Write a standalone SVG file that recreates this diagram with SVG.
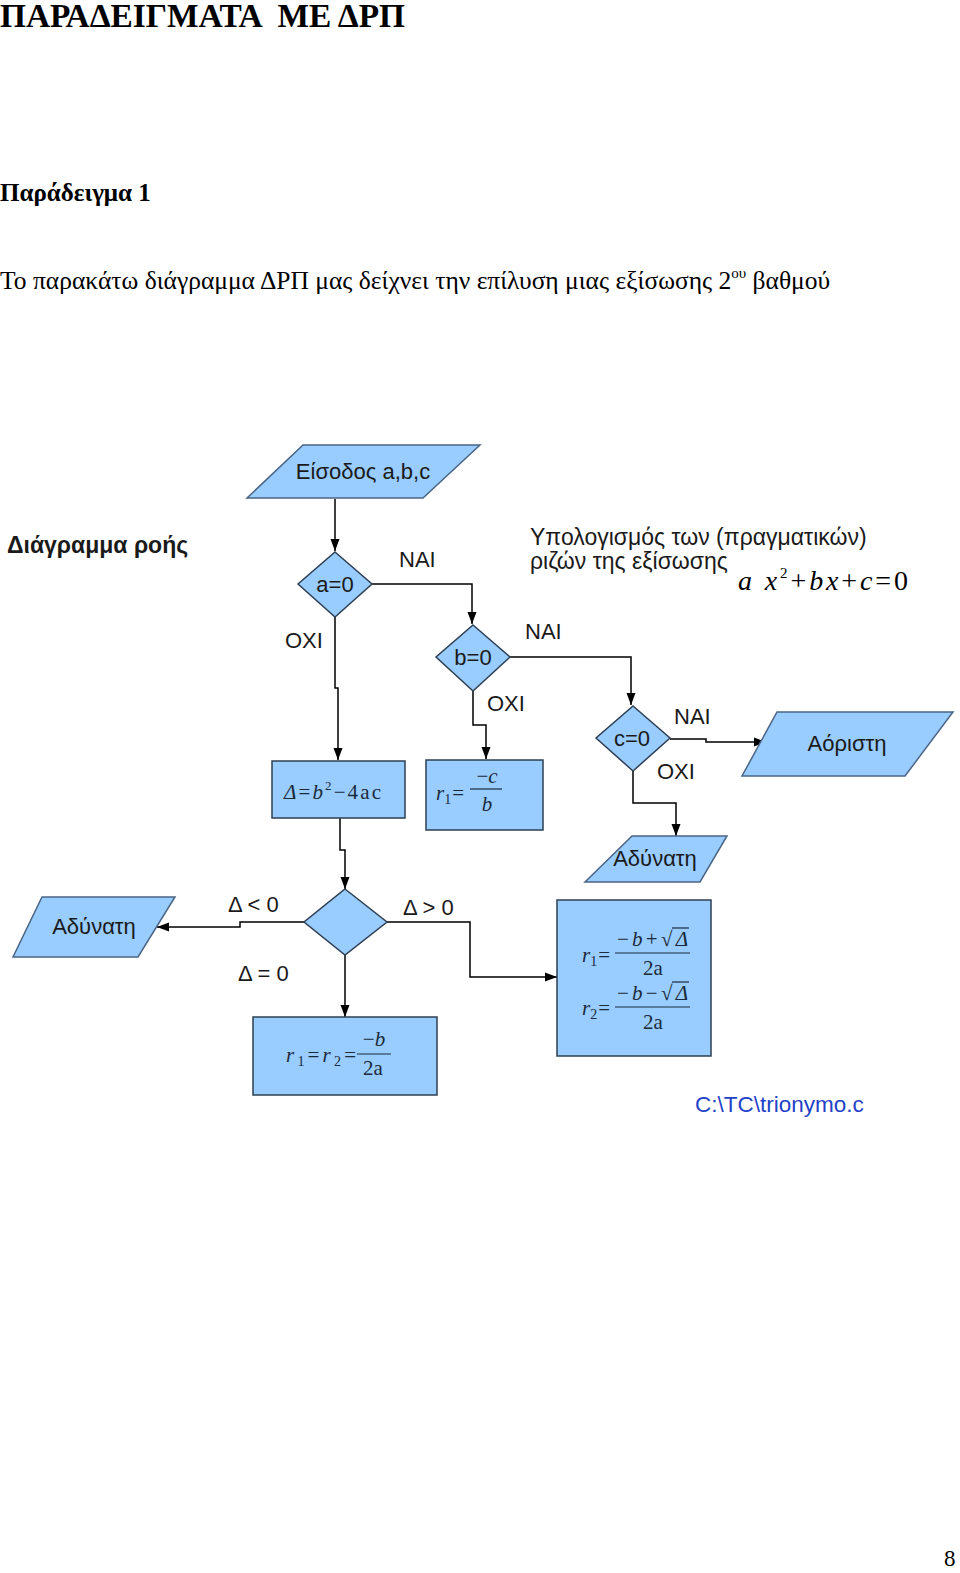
<svg xmlns="http://www.w3.org/2000/svg" width="960" height="1573" viewBox="0 0 960 1573">
<style>
.serif{font-family:"Liberation Serif","Times New Roman",serif;fill:#000}
.sans{font-family:"Liberation Sans",Arial,sans-serif;fill:#1a1a1a}
.shape{fill:#99ccff;stroke:#2e3f52;stroke-width:1.5}
.para{fill:#99ccff;stroke:#4a6585;stroke-width:1.5}
.lbl{font-family:"Liberation Sans",Arial,sans-serif;font-size:22px;fill:#1a1a1a}
.math{font-family:"Liberation Serif","Times New Roman",serif;font-size:21px;fill:#1a2a3a}
.it{font-style:italic}
.conn{fill:none;stroke:#000;stroke-width:1.5}
.frac{stroke:#1a2a3a;stroke-width:1.2}
</style>
<defs>
<marker id="arr" markerUnits="userSpaceOnUse" markerWidth="12" markerHeight="12" viewBox="0 0 12 12" refX="12" refY="6" orient="auto">
<path d="M0,1.5 L12,6 L0,10.5 Z" fill="#000"/>
</marker>
</defs>
<rect width="960" height="1573" fill="#fff"/>

<text class="serif" x="0" y="27" font-size="33" font-weight="bold" style="white-space:pre" textLength="405" lengthAdjust="spacingAndGlyphs">ΠΑΡΑΔΕΙΓΜΑΤΑ  ΜΕ ΔΡΠ</text>
<text class="serif" x="0" y="201" font-size="25" font-weight="bold">Παράδειγμα 1</text>
<text class="serif" x="0" y="289" font-size="25.5">Το παρακάτω διάγραμμα ΔΡΠ μας δείχνει την επίλυση μιας εξίσωσης 2<tspan font-size="15" dy="-11">ου</tspan><tspan dy="11"> βαθμού</tspan></text>

<text class="sans" x="7" y="553" font-size="23" font-weight="bold">Διάγραμμα ροής</text>
<text class="sans" x="530" y="545" font-size="23">Υπολογισμός των (πραγματικών)</text>
<text class="sans" x="530" y="569" font-size="23">ριζών της εξίσωσης</text>
<text class="serif it" x="738" y="590" font-size="28" fill="#1a2a3a" textLength="170" lengthAdjust="spacing">a x<tspan font-size="15" dy="-12" font-style="normal">2</tspan><tspan dy="12" font-style="normal">+</tspan>bx<tspan font-style="normal">+</tspan>c<tspan font-style="normal">=0</tspan></text>

<g id="connectors">
<polyline class="conn" points="335,499 335,551" marker-end="url(#arr)"/>
<polyline class="conn" points="372,584 472,584 472,624" marker-end="url(#arr)"/>
<polyline class="conn" points="335,617 335,688 338,688 338,760" marker-end="url(#arr)"/>
<polyline class="conn" points="510,657 631,657 631,705" marker-end="url(#arr)"/>
<polyline class="conn" points="473,691 473,725 486,725 486,759" marker-end="url(#arr)"/>
<polyline class="conn" points="670,739 706,739 706,742 766,742" marker-end="url(#arr)"/>
<polyline class="conn" points="633,771 633,803 676,803 676,836" marker-end="url(#arr)"/>
<polyline class="conn" points="340,818 340,850 345,850 345,889" marker-end="url(#arr)"/>
<polyline class="conn" points="304,922 240,922 240,927 157,927" marker-end="url(#arr)"/>
<polyline class="conn" points="387,922 470,922 470,977 557,977" marker-end="url(#arr)"/>
<polyline class="conn" points="345,955 345,1017" marker-end="url(#arr)"/>
<text class="lbl" x="399" y="567">NAI</text>
<text class="lbl" x="285" y="648">OXI</text>
<text class="lbl" x="525" y="639">NAI</text>
<text class="lbl" x="487" y="711">OXI</text>
<text class="lbl" x="674" y="724">NAI</text>
<text class="lbl" x="657" y="779">OXI</text>
<text class="lbl" x="228" y="912">Δ &lt; 0</text>
<text class="lbl" x="403" y="915">Δ &gt; 0</text>
<text class="lbl" x="238" y="981">Δ = 0</text>
</g>

<g id="input">
<polygon class="para" points="303,445 480,445 423,498 247,498"/>
<text class="lbl" x="363" y="479" text-anchor="middle">Είσοδος a,b,c</text>
</g>

<g id="dec-a">
<polygon class="shape" points="335,552 372,584 335,617 298,584"/>
<text class="lbl" x="335" y="592" text-anchor="middle">a=0</text>
</g>

<g id="dec-b">
<polygon class="shape" points="473,625 510,657 473,691 436,657"/>
<text class="lbl" x="473" y="665" text-anchor="middle">b=0</text>
</g>

<g id="dec-c">
<polygon class="shape" points="633,706 670,738 633,771 596,738"/>
<text class="lbl" x="632" y="746" text-anchor="middle">c=0</text>
</g>

<g id="out-aoristi">
<polygon class="para" points="777,712 953,712 905,776 742,776"/>
<text class="lbl" x="847" y="751" text-anchor="middle" font-size="23">Αόριστη</text>
</g>

<g id="out-adynati-right">
<polygon class="para" points="632,836 727,836 700,882 585,882"/>
<text class="lbl" x="655" y="866" text-anchor="middle" font-size="23">Αδύνατη</text>
</g>

<g id="box-r1">
<rect class="shape" x="426" y="760" width="117" height="70"/>
<text class="math" x="436" y="800"><tspan class="it">r</tspan><tspan font-size="14" dy="4">1</tspan><tspan dy="-4" dx="1">=</tspan></text>
<text class="math it" x="487" y="783" text-anchor="middle"><tspan font-style="normal">−</tspan>c</text>
<line class="frac" x1="470" y1="789" x2="502" y2="789"/>
<text class="math it" x="487" y="811" text-anchor="middle">b</text>
</g>

<g id="box-delta">
<rect class="shape" x="272" y="761" width="133" height="57"/>
<text class="math" x="284" y="799" textLength="97" lengthAdjust="spacing"><tspan class="it">Δ</tspan>=<tspan class="it">b</tspan><tspan font-size="13" dy="-9">2</tspan><tspan dy="9">−4ac</tspan></text>
</g>

<g id="dec-delta">
<polygon class="shape" points="345,889 387,922 345,955 304,922"/>
</g>

<g id="out-adynati-left">
<polygon class="para" points="42,897 175,897 138,957 13,957"/>
<text class="lbl" x="94" y="934" text-anchor="middle" font-size="23">Αδύνατη</text>
</g>

<g id="box-roots">
<rect class="shape" x="557" y="900" width="154" height="156"/>
<text class="math" x="582" y="962"><tspan class="it">r</tspan><tspan font-size="14" dy="4">1</tspan><tspan dy="-4" dx="1">=</tspan></text>
<text class="math" x="617" y="946" textLength="71" lengthAdjust="spacing">−<tspan class="it">b</tspan>+√<tspan class="it">Δ</tspan></text>
<line class="frac" x1="672" y1="928" x2="689" y2="928"/>
<line class="frac" x1="615" y1="953" x2="690" y2="953"/>
<text class="math" x="653" y="975" text-anchor="middle">2a</text>
<text class="math" x="582" y="1015"><tspan class="it">r</tspan><tspan font-size="14" dy="4">2</tspan><tspan dy="-4" dx="1">=</tspan></text>
<text class="math" x="617" y="1000" textLength="71" lengthAdjust="spacing">−<tspan class="it">b</tspan>−√<tspan class="it">Δ</tspan></text>
<line class="frac" x1="672" y1="982" x2="689" y2="982"/>
<line class="frac" x1="615" y1="1007" x2="690" y2="1007"/>
<text class="math" x="653" y="1029" text-anchor="middle">2a</text>
</g>

<g id="box-double">
<rect class="shape" x="253" y="1017" width="184" height="78"/>
<text class="math" x="286" y="1062" textLength="70" lengthAdjust="spacing"><tspan class="it">r</tspan><tspan font-size="14" dy="4">1</tspan><tspan dy="-4">=</tspan><tspan class="it">r</tspan><tspan font-size="14" dy="4">2</tspan><tspan dy="-4">=</tspan></text>
<text class="math" x="374" y="1046" text-anchor="middle">−<tspan class="it">b</tspan></text>
<line class="frac" x1="357" y1="1054" x2="391" y2="1054"/>
<text class="math" x="373" y="1075" text-anchor="middle">2a</text>
</g>

<text x="695" y="1112" font-family="Liberation Sans, Arial, sans-serif" font-size="22.5" fill="#2342c8">C:\TC\trionymo.c</text>
<text class="serif" x="944" y="1566" font-size="23">8</text>
</svg>
